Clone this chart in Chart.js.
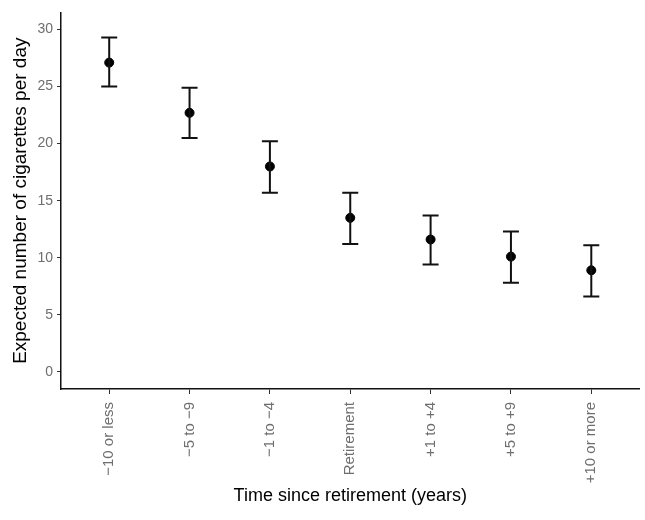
<!DOCTYPE html>
<html>
<head>
<meta charset="utf-8">
<script src="https://cdn.jsdelivr.net/npm/chart.js@4.4.0/dist/chart.umd.min.js"></script>
<style>
  html, body { margin: 0; padding: 0; background: #fff; }
  #wrap { width: 645px; height: 520px; }
</style>
</head>
<body>
<div id="wrap"><canvas id="cigChart" width="645" height="520"></canvas></div>
<script>
const categories = ["\u221210 or less", "\u22125 to \u22129", "\u22121 to \u22124", "Retirement", "+1 to +4", "+5 to +9", "+10 or more"];
const means = [27.1, 22.7, 18.0, 13.5, 11.6, 10.1, 8.9];
const lower = [25.0, 20.5, 15.7, 11.2, 9.4, 7.8, 6.6];
const upper = [29.3, 24.9, 20.2, 15.7, 13.7, 12.3, 11.1];
const yTicks = [0, 5, 10, 15, 20, 25, 30];

const ctx = document.getElementById("cigChart").getContext("2d");
const fontFamily = "'Liberation Sans', Arial, sans-serif";

// error bars drawn from the scales after the points
const errorBars = {
  id: "errorBars",
  afterDatasetsDraw(chart) {
    const { ctx, scales: { x, y } } = chart;
    ctx.save();
    ctx.strokeStyle = "#111";
    ctx.lineWidth = 2;
    means.forEach((m, i) => {
      const px = x.getPixelForValue(i);
      const top = y.getPixelForValue(upper[i]);
      const bot = y.getPixelForValue(lower[i]);
      ctx.beginPath();
      ctx.moveTo(px, top);
      ctx.lineTo(px, bot);
      ctx.moveTo(px - 8, top);
      ctx.lineTo(px + 8, top);
      ctx.moveTo(px - 8, bot);
      ctx.lineTo(px + 8, bot);
      ctx.stroke();
    });
    ctx.restore();
  },
};

const config = {
  type: "scatter",
  data: {
    datasets: [
      {
        label: "Expected",
        data: means.map((m, i) => ({ x: i, y: m })),
        backgroundColor: "#000",
        borderColor: "#000",
        pointRadius: 4.5,
        pointHoverRadius: 4.5,
      },
    ],
  },
  options: {
    responsive: false,
    animation: false,
    layout: { padding: { top: 9, right: 5, left: 9, bottom: 7 } },
    scales: {
      x: {
        type: "linear",
        min: -0.6,
        max: 6.6,
        afterBuildTicks: (axis) => {
          axis.ticks = categories.map((c, i) => ({ value: i }));
        },
        afterFit: (axis) => {
          axis.height = 124;
        },
        grid: {
          drawOnChartArea: false,
          drawTicks: true,
          tickLength: 5,
          color: "#333",
          lineWidth: 1,
        },
        border: { display: true, color: "#111", width: 1.5 },
        ticks: {
          autoSkip: false,
          minRotation: 90,
          maxRotation: 90,
          color: "#6e6e6e",
          padding: 8,
          font: { family: fontFamily, size: 15 },
          callback: (v) => categories[v],
        },
        title: {
          display: true,
          text: "Time since retirement (years)",
          color: "#000",
          font: { family: fontFamily, size: 18 },
          padding: { top: 2, bottom: 6 },
        },
      },
      y: {
        min: -1.5,
        max: 31.5,
        afterBuildTicks: (axis) => {
          axis.ticks = yTicks.map((v) => ({ value: v }));
        },
        afterFit: (axis) => {
          axis.width = 52;
        },
        grid: {
          drawOnChartArea: false,
          drawTicks: true,
          tickLength: 4,
          color: "#333",
        },
        border: { display: true, color: "#111", width: 1.5 },
        ticks: {
          color: "#6e6e6e",
          padding: 4,
          font: { family: fontFamily, size: 14 },
        },
        title: {
          display: true,
          text: "Expected number of cigarettes per day",
          color: "#000",
          font: { family: fontFamily, size: 19 },
          padding: { top: 0, bottom: 2 },
        },
      },
    },
    plugins: {
      legend: { display: false },
      tooltip: { enabled: false },
    },
  },
  plugins: [errorBars],
};

const cigChart = new Chart(ctx, config);
</script>
</body>
</html>
